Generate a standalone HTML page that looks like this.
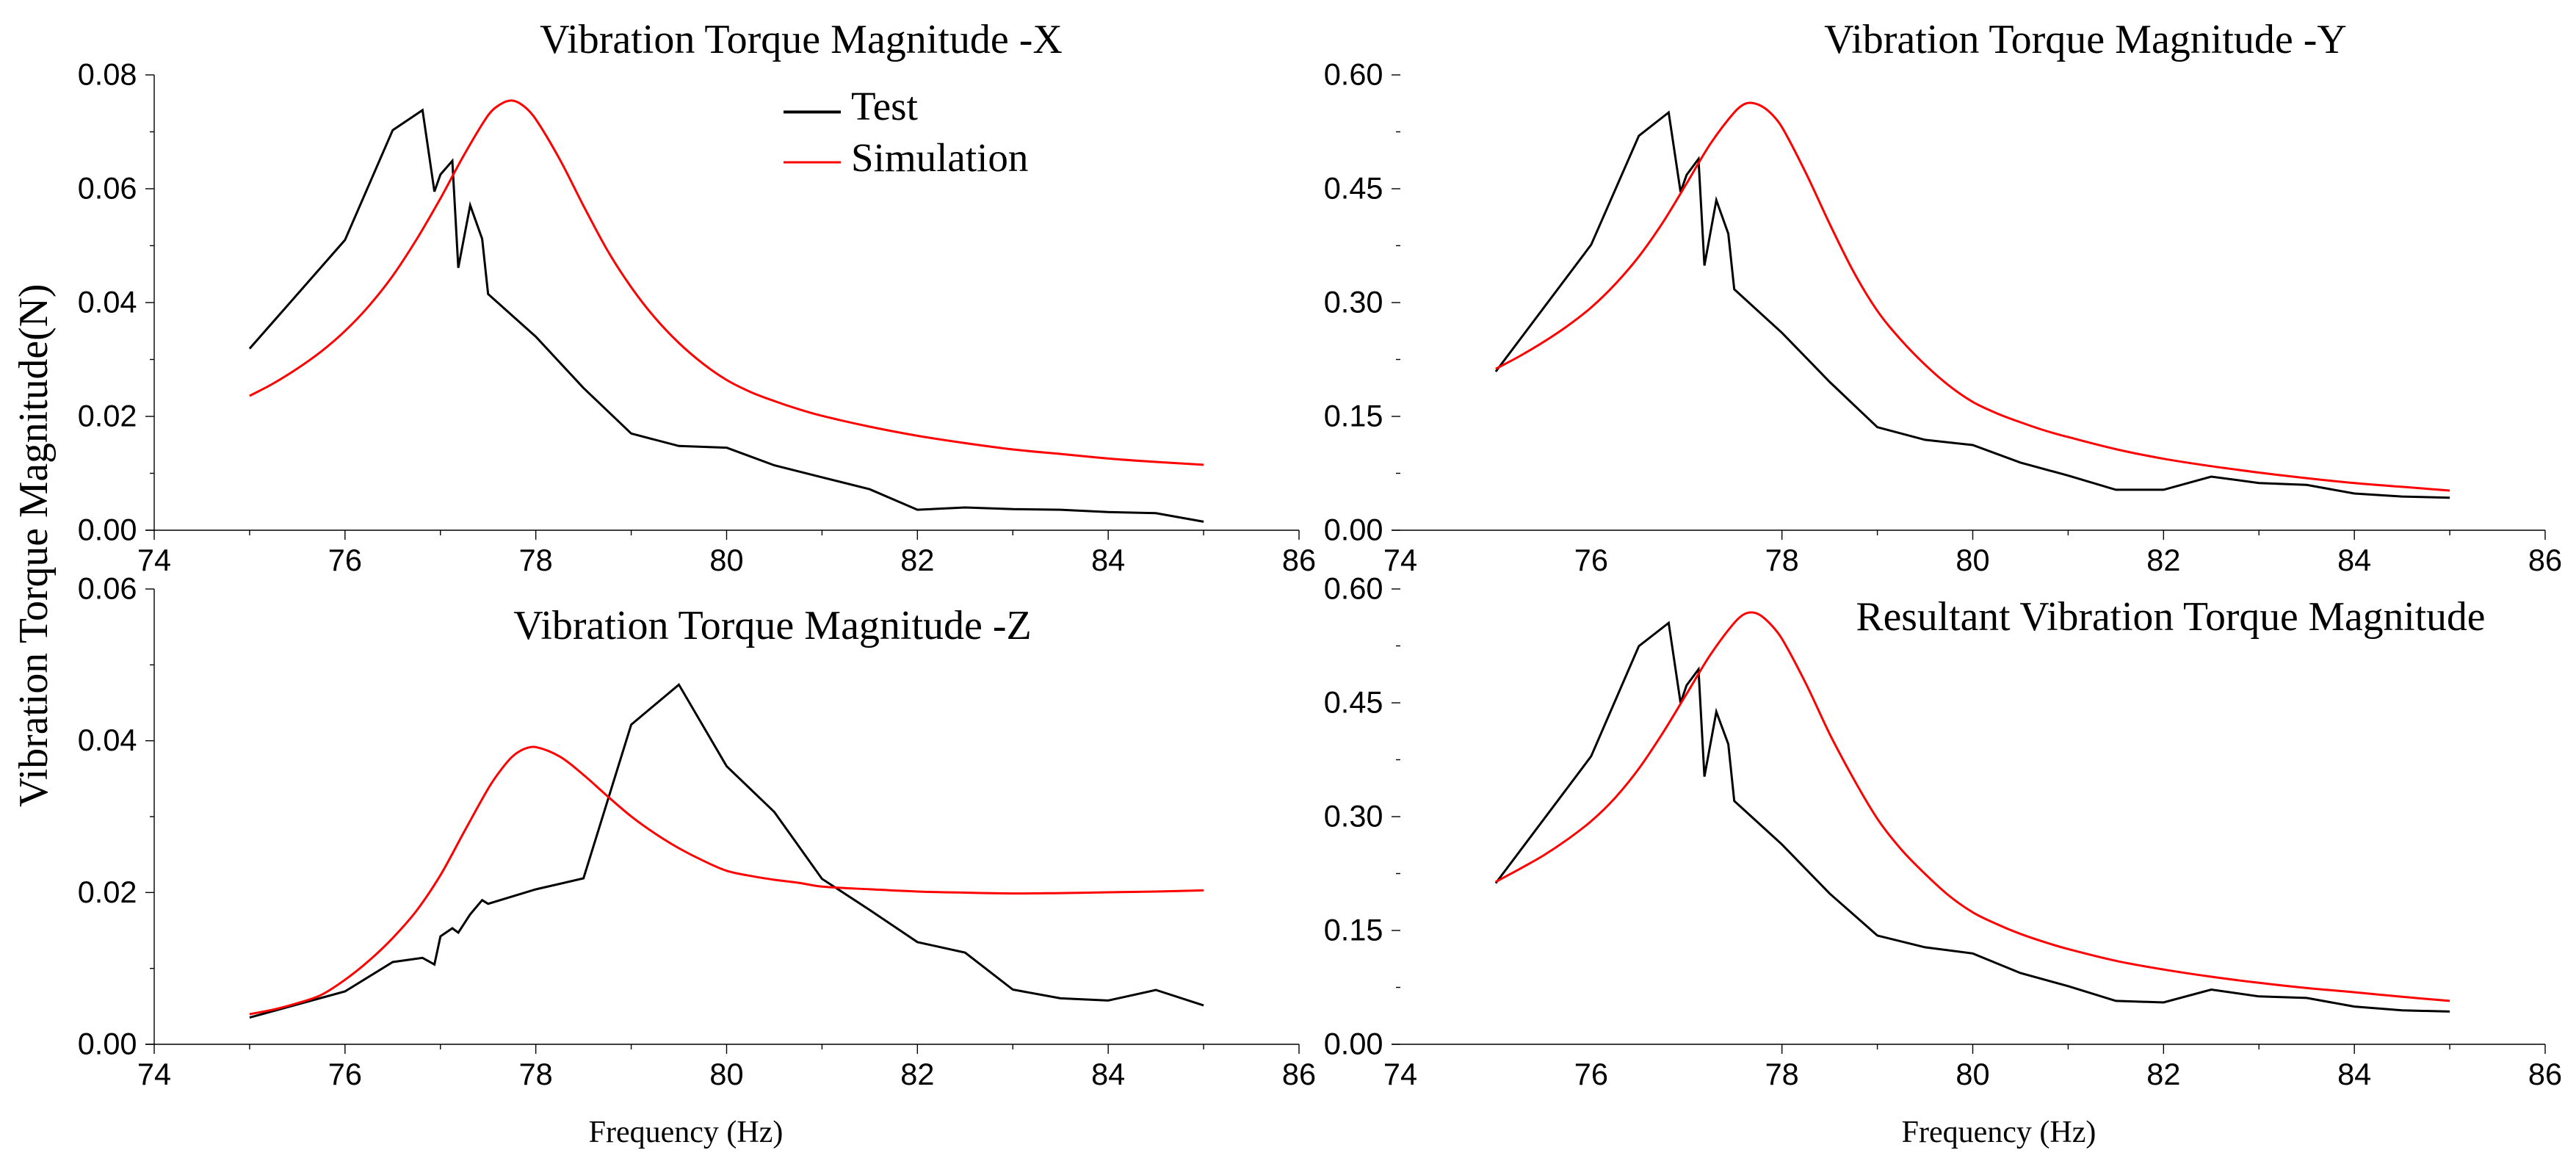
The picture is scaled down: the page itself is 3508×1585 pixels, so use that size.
<!DOCTYPE html>
<html lang="en">
<head>
<meta charset="utf-8">
<title>Vibration Torque Magnitude</title>
<style>
html,body{margin:0;padding:0;background:#fff;}
svg{display:block;}
.title,.legend-text,.axis-title{font-family:"Liberation Serif",serif;fill:#000;}
.tick-text{font-family:"Liberation Sans",sans-serif;font-size:41.5px;fill:#000;}
</style>
</head>
<body>
<svg id="figure" xmlns="http://www.w3.org/2000/svg" width="3508" height="1585" viewBox="0 0 3508 1585">
  <rect x="0" y="0" width="3508" height="1585" fill="#fff"/>
  <g id="panel-x"></g>
  <g id="panel-y"></g>
  <g id="panel-z"></g>
  <g id="panel-r"></g>
  <text class="title" x="1091" y="72" font-size="56" text-anchor="middle">Vibration Torque Magnitude -X</text>
  <text class="title" x="2840" y="72" font-size="56" text-anchor="middle">Vibration Torque Magnitude -Y</text>
  <text class="title" x="1052" y="870" font-size="56" text-anchor="middle">Vibration Torque Magnitude -Z</text>
  <text class="title" x="2956" y="858" font-size="55.6" text-anchor="middle">Resultant Vibration Torque Magnitude</text>
  <text class="axis-title" transform="translate(64,1099) rotate(-90)" font-size="55.7">Vibration Torque Magnitude(N)</text>
  <text class="axis-title" x="934" y="1555" font-size="42" text-anchor="middle">Frequency (Hz)</text>
  <text class="axis-title" x="2722" y="1555" font-size="42" text-anchor="middle">Frequency (Hz)</text>
  <g>
    <line x1="1067" y1="152.5" x2="1145" y2="152.5" stroke="#000" stroke-width="4"/>
    <text class="legend-text" x="1159" y="163" font-size="55">Test</text>
    <line x1="1067" y1="221" x2="1145" y2="221" stroke="#f00" stroke-width="3"/>
    <text class="legend-text" x="1159" y="233" font-size="55">Simulation</text>
  </g>
</svg>
<script>
const testFreq = [75,76,76.5,76.8125,76.9375,77,77.125,77.1875,77.3125,77.4375,77.5,78,78.5,79,79.5,80,80.5,81,81.5,82,82.5,83,83.5,84,84.5,85];
const simFreq = [75,75.25,75.5,75.75,76,76.25,76.5,76.75,77,77.25,77.5,77.625,77.75,77.875,78,78.25,78.5,78.75,79,79.25,79.5,79.75,80,80.25,80.5,80.75,81,81.5,82,82.5,83,83.5,84,84.5,85];

const testX = [.0319,.0510,.0703,.0738,.0595,.0625,.0649,.0461,.0571,.0512,.0415,.0340,.0250,.0170,.0148,.0145,.0114,.0093,.0072,.0036,.0040,.0037,.0036,.0032,.0030,.0015];
const simX = [.0236,.0258,.0284,.0314,.0350,.0394,.0447,.0511,.0583,.0660,.0729,.0748,.0755,.0745,.0722,.0652,.0570,.0492,.0427,.0373,.0329,.0293,.0264,.0243,.0227,.0213,.0201,.0182,.0166,.0153,.0142,.0134,.0126,.0120,.0115];

const testY = [.2090,.3762,.5198,.5505,.4456,.4682,.4892,.3488,.4350,.3908,.3175,.2601,.1955,.1358,.1191,.1123,.0891,.0720,.0533,.0533,.0706,.0622,.0597,.0484,.0444,.0429];
const simY = [.2126,.2294,.2480,.2690,.2935,.3240,.3607,.4053,.4569,.5092,.5505,.5625,.5610,.5505,.5311,.4710,.4037,.3407,.2891,.2504,.2181,.1907,.1691,.1542,.1423,.1316,.1228,.1068,.0942,.0844,.0760,.0686,.0622,.0572,.0523];

const testZ = [.00352,.00697,.01084,.01139,.01052,.01423,.01529,.01471,.01713,.0190,.01851,.02042,.02187,.04213,.04739,.03665,.03061,.0218,.0177,.01347,.01208,.00721,.00606,.00577,.00716,.00512];
const simZ = [.00397,.00458,.00542,.00650,.00850,.01100,.01400,.01761,.02229,.02803,.03368,.0360,.03787,.0389,.03916,.03793,.03551,.03271,.03003,.02777,.02584,.02422,.02287,.02219,.02168,.02129,.02078,.02043,.02013,.01998,.01988,.01993,.02003,.02013,.02028];

const testR = [.2123,.3795,.5247,.5553,.4498,.4730,.4940,.3527,.4382,.3956,.3207,.2633,.1987,.1433,.1278,.1197,.0939,.0766,.0572,.0552,.0721,.0631,.0611,.0497,.0447,.0432];
const simR = [.2142,.2310,.2488,.2698,.2940,.3246,.3633,.4101,.4617,.5133,.5553,.5680,.5670,.5543,.5343,.4756,.4090,.3500,.2972,.2568,.2246,.1960,.1739,.1585,.1455,.1348,.1255,.1100,.0985,.0890,.0810,.0741,.0686,.0626,.0572];

const xTickValues = [74,76,78,80,82,84,86];
const xMinorValues = [75,77,79,81,83,85];
const yTicksSmallX = ["0.00","0.02","0.04","0.06","0.08"];
const yTicksSmallZ = ["0.00","0.02","0.04","0.06"];
const yTicksLarge = ["0.00","0.15","0.30","0.45","0.60"];

const NS = "http://www.w3.org/2000/svg";
const X_MIN = 74, X_MAX = 86, X_SPAN_PX = 1559;

function makeEl(parent, tag, attrs) {
  const el = document.createElementNS(NS, tag);
  for (const k in attrs) el.setAttribute(k, attrs[k]);
  parent.appendChild(el);
  return el;
}

function xAxisFn(left) {
  return v => left + (v - X_MIN) / (X_MAX - X_MIN) * X_SPAN_PX;
}
function yAxisFn(bottom, top, yMax) {
  return v => bottom - v / yMax * (bottom - top);
}

function linePath(xs, ys, sx, sy) {
  return xs.map((x, i) => (i ? "L" : "M") + sx(x).toFixed(1) + " " + sy(ys[i]).toFixed(1)).join(" ");
}
function smoothPath(xs, ys, sx, sy) {
  const p = xs.map((x, i) => [sx(x), sy(ys[i])]);
  const slope = i => {
    const a = p[Math.max(i - 1, 0)], c = p[Math.min(i + 1, p.length - 1)];
    return (c[1] - a[1]) / (c[0] - a[0]);
  };
  let d = "M" + p[0][0].toFixed(1) + " " + p[0][1].toFixed(1);
  for (let i = 0; i < p.length - 1; i++) {
    const b = p[i], c = p[i + 1], h = (c[0] - b[0]) / 3;
    const c1x = b[0] + h, c1y = b[1] + slope(i) * h;
    const c2x = c[0] - h, c2y = c[1] - slope(i + 1) * h;
    d += " C" + c1x.toFixed(1) + " " + c1y.toFixed(1) + " " + c2x.toFixed(1) + " " + c2y.toFixed(1) + " " + c[0].toFixed(1) + " " + c[1].toFixed(1);
  }
  return d;
}

function drawPanel(id, left, bottom, top, yLabels, simValues, testValues, firstXTick, showYLine) {
  const g = document.getElementById(id);
  const sx = xAxisFn(left);
  const yMax = parseFloat(yLabels[yLabels.length - 1]);
  const sy = yAxisFn(bottom, top, yMax);
  const axisStyle = { stroke: "#000", "stroke-width": 1.4, fill: "none" };

  const xAxis = makeEl(g, "line", Object.assign({ x1: left - 12, y1: bottom, x2: sx(X_MAX), y2: bottom }, axisStyle));
  
  

  if (showYLine) {
    const yAxis = makeEl(g, "line", Object.assign({ x1: left, y1: top, x2: left, y2: bottom }, axisStyle));
    
    
  }

  xTickValues.forEach(v => {
    if (v >= firstXTick) {
      const t = makeEl(g, "line", Object.assign({ x1: sx(v), y1: bottom, x2: sx(v), y2: bottom + 13 }, axisStyle));
      
      
    }
    const lab = makeEl(g, "text", { class: "tick-text", x: sx(v), y: bottom + 55, "text-anchor": "middle" });
    
    
    lab.textContent = String(v);
  });
  xMinorValues.forEach(v => {
    if (v >= firstXTick) {
      const t = makeEl(g, "line", Object.assign({ x1: sx(v), y1: bottom, x2: sx(v), y2: bottom + 7 }, axisStyle));
      
      
    }
  });

  yLabels.forEach((label, i) => {
    const v = parseFloat(label);
    const t = makeEl(g, "line", Object.assign({ x1: left - 12, y1: sy(v), x2: left, y2: sy(v) }, axisStyle));
    
    
    const lab = makeEl(g, "text", { class: "tick-text", x: left - 23.5, y: sy(v) + 13.5, "text-anchor": "end" });
    
    
    lab.textContent = label;
    if (i < yLabels.length - 1) {
      const mid = (v + parseFloat(yLabels[i + 1])) / 2;
      const m = makeEl(g, "line", Object.assign({ x1: left - 6, y1: sy(mid), x2: left, y2: sy(mid) }, axisStyle));
      
      
    }
  });

  const test = makeEl(g, "path", { d: linePath(testFreq, testValues, sx, sy), fill: "none", stroke: "#000", "stroke-width": 3, "stroke-linejoin": "miter" });
  
  

  const sim = makeEl(g, "path", { d: smoothPath(simFreq, simValues, sx, sy), fill: "none", stroke: "#f00", "stroke-width": 3, "stroke-linejoin": "round" });
  
  
}

drawPanel("panel-x", 210, 722, 102, yTicksSmallX, simX, testX, 74, true);
drawPanel("panel-y", 1907, 722, 102, yTicksLarge, simY, testY, 78, false);
drawPanel("panel-z", 210, 1422, 802, yTicksSmallZ, simZ, testZ, 74, true);
drawPanel("panel-r", 1907, 1422, 802, yTicksLarge, simR, testR, 78, false);
</script>
</body>
</html>
